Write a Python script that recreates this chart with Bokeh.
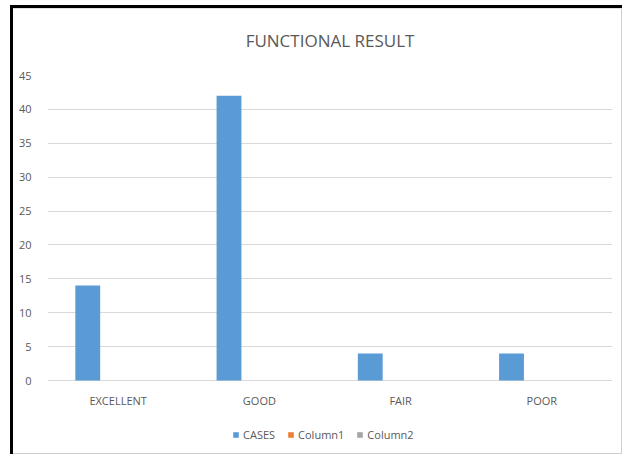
from bokeh.plotting import figure
from bokeh.models import FactorRange, ColumnDataSource, FixedTicker, Legend, LegendItem, Range1d
from bokeh.transform import dodge
from bokeh.core.properties import value
from bokeh.embed import file_html
from bokeh.resources import INLINE

categories = ["EXCELLENT", "GOOD", "FAIR", "POOR"]
cases = [14, 42, 4, 4]
column1 = [0, 0, 0, 0]
column2 = [0, 0, 0, 0]
baseline = [0, 0, 0, 0]
y_ticks = [0, 5, 10, 15, 20, 25, 30, 35, 40, 45]
series_names = ["CASES", "Column1", "Column2"]
title_text = "FUNCTIONAL RESULT"

src = ColumnDataSource(dict(cat=categories, cases=cases, column1=column1,
                            column2=column2, base=baseline))

FONT = "Open Sans"
GREY = "#595959"

# value axis 0..45 occupies 305 px; frame continues 72 px below zero for labels/legend
y_max = 45
px_per_unit = 305 / y_max
y_min = -72 / px_per_unit

p = figure(x_range=FactorRange(*categories, range_padding=0), y_range=Range1d(y_min, y_max),
           width=622, height=454, output_backend="svg", toolbar_location=None,
           x_axis_location=None,
           min_border_left=47, min_border_right=10, min_border_top=75, min_border_bottom=2)
p.styles = {
    "background-color": "white",
    "background-image": ("linear-gradient(#000,#000), linear-gradient(#000,#000), "
                         "linear-gradient(#e2e2e2,#e2e2e2), "
                         "linear-gradient(#cfcfcf,#cfcfcf), linear-gradient(#cfcfcf,#cfcfcf)"),
    "background-size": "3px 100%, 100% 3px, 100% 1px, 1px 100%, 100% 1px",
    "background-position": "10px 5px, 10px 5px, 13px 8px, 621px 5px, 10px 453px",
    "background-repeat": "no-repeat",
}
p.border_fill_color = None
p.background_fill_color = None
p.outline_line_color = None

p.title.text = title_text
p.title.align = "center"
p.title.offset = -9
p.title.text_font = FONT
p.title.text_font_style = "normal"
p.title.text_font_size = "17px"
p.title.text_color = GREY
p.title.standoff = 48

w = 0.176
off = 0.215
r1 = p.vbar(x=dodge("cat", -off, range=p.x_range), top="cases", bottom="base", width=w,
            source=src, fill_color="#5B9BD5", line_color=None)
r2 = p.vbar(x=dodge("cat", 0, range=p.x_range), top="column1", bottom="base", width=w,
            source=src, fill_color="#ED7D31", line_color=None)
r3 = p.vbar(x=dodge("cat", off, range=p.x_range), top="column2", bottom="base", width=w,
            source=src, fill_color="#A5A5A5", line_color=None)

# category labels under the zero line
p.text(x="cat", y="base", text="cat", source=src, y_offset=20,
       text_align="center", text_baseline="middle", text_font=value(FONT),
       text_font_size="11px", text_color=GREY)

p.xgrid.grid_line_color = None
p.ygrid.grid_line_color = "#d9d9d9"
p.yaxis.ticker = FixedTicker(ticks=y_ticks)
p.yaxis.axis_line_color = None
p.yaxis.major_tick_line_color = None
p.yaxis.minor_tick_line_color = None
p.yaxis.major_label_text_font = FONT
p.yaxis.major_label_text_font_size = "11px"
p.yaxis.major_label_text_color = GREY
p.yaxis.major_label_standoff = 10

legend = Legend(items=[LegendItem(label=series_names[0], renderers=[r1]),
                       LegendItem(label=series_names[1], renderers=[r2]),
                       LegendItem(label=series_names[2], renderers=[r3])],
                orientation="horizontal", location=(185, 10),
                glyph_width=7, glyph_height=7, label_text_font=FONT,
                label_text_font_size="11px", label_text_color=GREY,
                border_line_color=None, background_fill_alpha=0,
                spacing=12, label_standoff=4, padding=0, margin=0)
p.add_layout(legend, "center")

open("out.html", "w").write(file_html(p, INLINE))
